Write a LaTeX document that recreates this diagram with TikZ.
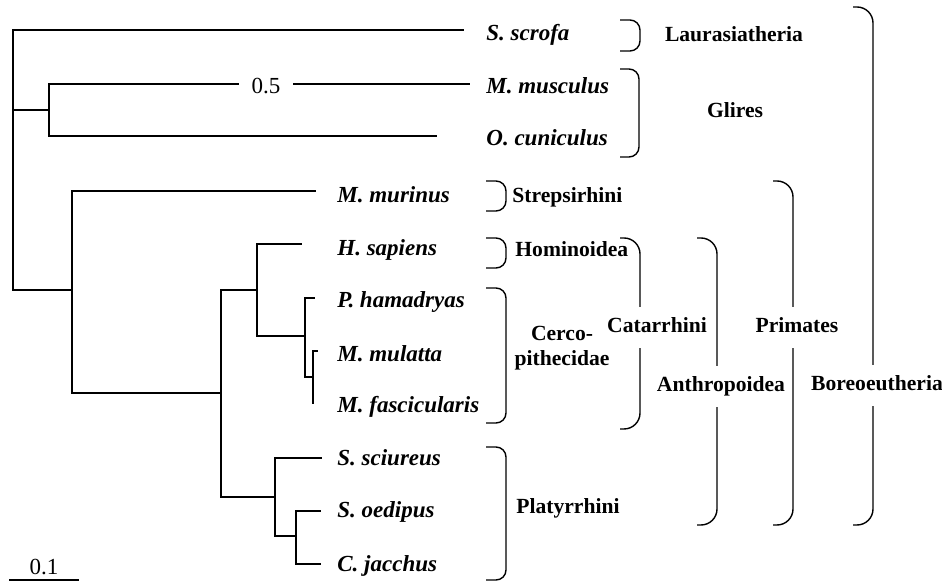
\documentclass[tikz,border=0pt]{standalone}
\usepackage{fontspec}
\setmainfont{Liberation Serif}
\begin{document}
\begin{tikzpicture}[x=0.5pt, y=-0.5pt,
		branch/.style={line width=0.9pt},
		brace/.style={line width=0.7pt, rounded corners=5pt},
		bigbrace/.style={brace, rounded corners=8pt},
		taxon/.style={anchor=base west, inner sep=0pt, font=\fontsize{11.5}{13}\selectfont\bfseries\itshape},
		group/.style={inner sep=0pt, font=\fontsize{10.8}{12.5}\selectfont\bfseries},
		cut/.style={group, anchor=base, fill=white, inner xsep=1pt, inner ysep=5pt, text height=8pt, text depth=2.5pt}]
	\useasboundingbox (0,0) rectangle (942,581);
	\coordinate (nRoot) at (13,110);
	\coordinate (nGli) at (49,110);
	\coordinate (nPri) at (72,290);
	\coordinate (nAnt) at (221,393);
	\coordinate (nCat) at (257,290);
	\coordinate (nCer) at (305,336);
	\coordinate (nMac) at (313,377);
	\coordinate (nPla) at (275,497);
	\coordinate (nCal) at (296,536);
	\coordinate (tScr) at (464,30);
	\coordinate (tMus) at (470,84);
	\coordinate (tCun) at (437,136);
	\coordinate (tMur) at (316,191);
	\coordinate (tSap) at (302,244);
	\coordinate (tHam) at (315,298);
	\coordinate (tMul) at (318,351);
	\coordinate (tFas) at (313,404);
	\coordinate (tSci) at (322,458);
	\coordinate (tOed) at (321,511);
	\coordinate (tJac) at (321,564);
	\foreach \p/\c in {nRoot/tScr, nRoot/nGli, nRoot/nPri, nGli/tMus, nGli/tCun, nPri/tMur, nPri/nAnt, nAnt/nCat, nAnt/nPla, nCat/tSap, nCat/nCer, nCer/tHam, nCer/nMac, nMac/tMul, nMac/tFas, nPla/tSci, nPla/nCal, nCal/tOed, nCal/tJac}
		\draw[branch] (\p) |- (\c);
	\node[fill=white, inner xsep=6.5pt, inner ysep=1pt, font=\fontsize{11.5}{13}\selectfont] (len) at (266,86) {0.5};
	\node[taxon] (lScr) at (486,41) {S. scrofa};
	\node[taxon] (lMus) at (486,94) {M. musculus};
	\node[taxon] (lCun) at (486,146) {O. cuniculus};
	\node[taxon] (lMur) at (337,203) {M. murinus};
	\node[taxon] (lSap) at (337,256) {H. sapiens};
	\node[taxon] (lHam) at (337,308) {P. hamadryas};
	\node[taxon] (lMul) at (337,362) {M. mulatta};
	\node[taxon] (lFas) at (337,413) {M. fascicularis};
	\node[taxon] (lSci) at (337,466) {S. sciureus};
	\node[taxon] (lOed) at (337,518) {S. oedipus};
	\node[taxon] (lJac) at (337,572) {C. jacchus};
	\draw[brace] (620,20) -- (640,20) -- (640,51) -- (620,51);
	\draw[brace] (620,69) -- (639,69) -- (639,157) -- (620,157);
	\draw[brace] (486,181) -- (506,181) -- (506,211) -- (486,211);
	\draw[brace] (486,238) -- (506,238) -- (506,268) -- (486,268);
	\draw[brace] (486,288) -- (506,288) -- (506,423) -- (486,423);
	\draw[brace] (486,447) -- (506,447) -- (506,580) -- (486,580);
	\draw[bigbrace] (620,238) -- (640,238) -- (640,429) -- (620,429);
	\draw[bigbrace] (697,238) -- (717,238) -- (717,525) -- (697,525);
	\draw[bigbrace] (773,181) -- (793,181) -- (793,525) -- (773,525);
	\draw[bigbrace] (853,7) -- (873,7) -- (873,525) -- (853,525);
	\node[group, anchor=base] (gLau) at (734,42) {Laurasiatheria};
	\node[group, anchor=base] (gGli) at (735,118) {Glires};
	\node[group, anchor=base west] (gStr) at (512,203) {Strepsirhini};
	\node[group, anchor=base west] (gHom) at (515,257) {Hominoidea};
	\node[group, align=center] (gCer) at (562,348) {Cerco-\\pithecidae};
	\node[group, anchor=base west] (gPla) at (516,514) {Platyrrhini};
	\node[cut] (gCat) at (657,333) {Catarrhini};
	\node[cut] (gAnt) at (721,392) {Anthropoidea};
	\node[cut] (gPri) at (797,333) {Primates};
	\node[cut] (gBor) at (877,391) {Boreoeutheria};
	\coordinate (sbA) at (9,580);
	\coordinate (sbB) at (79,580);
	\draw[line width=0.7pt] (sbA) -- (sbB) node[midway, above=1pt, inner sep=1pt, font=\fontsize{11.5}{13}\selectfont] (scale) {0.1};
\end{tikzpicture}
\end{document}
